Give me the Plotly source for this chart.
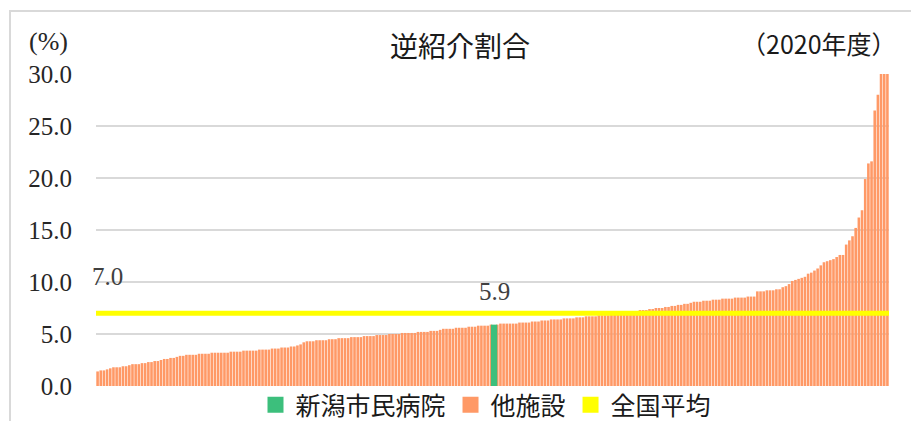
import plotly.graph_objects as go

# ---- data -------------------------------------------------------------
facility_values = [
    1.4, 1.5, 1.5, 1.6, 1.7, 1.8, 1.8, 1.8, 1.9, 1.9,
    2.0, 2.1, 2.1, 2.1, 2.2, 2.2, 2.3, 2.3, 2.4, 2.4,
    2.5, 2.6, 2.6, 2.7, 2.7, 2.8, 2.9, 2.9, 3.0, 3.0,
    3.0, 3.0, 3.1, 3.1, 3.1, 3.1, 3.2, 3.2, 3.2, 3.2,
    3.2, 3.2, 3.3, 3.3, 3.3, 3.3, 3.4, 3.4, 3.4, 3.4,
    3.4, 3.5, 3.5, 3.5, 3.5, 3.6, 3.6, 3.6, 3.7, 3.7,
    3.7, 3.8, 3.8, 3.9, 4.0, 4.2, 4.3, 4.3, 4.3, 4.4,
    4.4, 4.4, 4.4, 4.5, 4.5, 4.5, 4.6, 4.6, 4.6, 4.6,
    4.7, 4.7, 4.7, 4.7, 4.8, 4.8, 4.8, 4.8, 4.9, 4.9,
    4.9, 4.9, 5.0, 5.0, 5.0, 5.0, 5.1, 5.1, 5.1, 5.1,
    5.1, 5.2, 5.2, 5.2, 5.2, 5.3, 5.3, 5.3, 5.4, 5.5,
    5.5, 5.5, 5.5, 5.6, 5.6, 5.6, 5.6, 5.7, 5.7, 5.7,
    5.8, 5.8, 5.8, 5.8, 5.9, 5.9, 5.9, 6.0, 6.0, 6.0,
    6.0, 6.0, 6.0, 6.1, 6.1, 6.1, 6.1, 6.2, 6.2, 6.2,
    6.3, 6.3, 6.3, 6.4, 6.4, 6.4, 6.4, 6.5, 6.5, 6.5,
    6.5, 6.6, 6.6, 6.6, 6.7, 6.7, 6.7, 6.7, 6.8, 6.8,
    6.8, 6.8, 6.9, 6.9, 6.9, 7.0, 7.0, 7.1, 7.2, 7.2,
    7.2, 7.3, 7.3, 7.3, 7.4, 7.4, 7.5, 7.5, 7.5, 7.6,
    7.6, 7.7, 7.7, 7.8, 7.8, 7.9, 7.9, 8.0, 8.1, 8.1,
    8.1, 8.2, 8.2, 8.2, 8.3, 8.3, 8.3, 8.4, 8.4, 8.4,
    8.4, 8.5, 8.5, 8.5, 8.5, 8.6, 8.6, 8.6, 9.1, 9.1,
    9.1, 9.2, 9.2, 9.2, 9.3, 9.3, 9.5, 9.6, 9.8, 10.1,
    10.2, 10.3, 10.4, 10.5, 10.8, 10.9, 11.1, 11.3, 11.6, 11.9,
    12.0, 12.1, 12.2, 12.4, 12.6, 12.6, 13.6, 14.0, 14.4, 15.2,
    16.2, 16.9, 19.9, 21.4, 21.6, 26.5, 28.0, 31.0, 33.0, 35.0,
]
hospital_index = 125
hospital_value = 5.9
national_average = 7.0

series_names = ["新潟市民病院", "他施設", "全国平均"]
tick_values = [0, 5, 10, 15, 20, 25, 30]
tick_labels = ["0.0", "5.0", "10.0", "15.0", "20.0", "25.0", "30.0"]
title_text = "逆紹介割合"
unit_text = "(%)"
year_text = "（2020年度）"

# ---- styling ------------------------------------------------------------
GREEN = "#3CBF7C"
ORANGE = "#FF9966"
YELLOW = "#FFFF00"
GRID = "#D9D9D9"
SERIF = "Liberation Serif, DejaVu Serif, serif"
SANS = "Noto Sans CJK JP, Noto Sans, sans-serif"
series_colors = [GREEN, ORANGE, YELLOW]

n = len(facility_values)
other_x = [i for i in range(n) if i != hospital_index]
other_y = [facility_values[i] for i in other_x]

fig = go.Figure()
fig.add_trace(go.Bar(
    x=other_x, y=other_y, name=series_names[1], showlegend=False,
    marker=dict(color=ORANGE, line=dict(width=0)), width=0.82,
))
fig.add_trace(go.Scatter(
    x=[-0.5, n - 0.5], y=[national_average, national_average],
    mode="lines", line=dict(color=YELLOW, width=5), name=series_names[2],
    showlegend=False, hoverinfo="skip",
))
fig.add_trace(go.Bar(
    x=[hospital_index], y=[hospital_value], name=series_names[0], showlegend=False,
    marker=dict(color=GREEN, line=dict(width=0)), width=[2.0],
))
# legend entries with square swatches, as in the reference
for name, color in zip(series_names, series_colors):
    fig.add_trace(go.Scatter(
        x=[None], y=[None], name=name, mode="markers",
        marker=dict(symbol="square", size=16, color=color, line=dict(width=0)),
        hoverinfo="skip",
    ))

L, R, T, B = 96, 22, 74, 35
W, H = 911, 421
pw, ph = W - L - R, H - T - B

def px_x(px):
    return (px - L) / pw

def px_y(py):
    return (H - B - py) / ph

fig.update_layout(
    width=W, height=H,
    margin=dict(l=L, r=R, t=T, b=B, pad=0, autoexpand=False),
    paper_bgcolor="white", plot_bgcolor="white",
    barmode="overlay",
    showlegend=True,
    legend=dict(
        orientation="h", x=px_x(486), xanchor="center",
        y=px_y(405), yanchor="middle",
        font=dict(family=SANS, size=25, color="#1a1a1a"),
        traceorder="normal", itemsizing="trace",
        bgcolor="rgba(0,0,0,0)", tracegroupgap=0,
    ),
    title=dict(
        text=title_text, x=460 / W, xref="container", xanchor="center",
        y=1 - 47 / H, yref="container", yanchor="middle",
        font=dict(family=SANS, size=28, color="#1a1a1a"),
    ),
    xaxis=dict(
        range=[-0.5, n - 0.5], showticklabels=False, showgrid=False,
        zeroline=False, showline=False, ticks="",
    ),
    yaxis=dict(
        range=[0, 30], tickvals=tick_values, ticktext=tick_labels,
        showgrid=True, gridcolor=GRID, gridwidth=1.5,
        zeroline=False, showline=False, ticks="",
        tickfont=dict(family=SERIF, size=25, color="#262626"),
        ticklabelstandoff=23, automargin=False,
    ),
    shapes=[dict(
        type="rect", xref="paper", yref="paper",
        x0=px_x(10), x1=px_x(930), y0=px_y(440), y1=px_y(11),
        line=dict(color=GRID, width=2), fillcolor="rgba(0,0,0,0)", layer="below",
    )],
    annotations=[
        dict(text=unit_text, xref="paper", yref="paper", x=px_x(27), y=px_y(42),
             xanchor="left", yanchor="middle", showarrow=False,
             font=dict(family=SERIF, size=26, color="#262626")),
        dict(text=year_text, xref="paper", yref="paper", x=px_x(899), y=px_y(43),
             xanchor="right", yanchor="middle", showarrow=False,
             font=dict(family=SANS, size=25, color="#1a1a1a")),
        dict(text=f"{national_average:.1f}", xref="paper", yref="y", x=px_x(90),
             y=national_average, yshift=37, xanchor="left", yanchor="middle",
             showarrow=False, font=dict(family=SERIF, size=25, color="#404040")),
        dict(text=f"{hospital_value:.1f}", xref="x", yref="y", x=hospital_index,
             y=hospital_value, yshift=33, xanchor="center", yanchor="middle",
             showarrow=False, font=dict(family=SERIF, size=25, color="#404040")),
    ],
)

fig.write_html(
    "out.html",
    config={"displayModeBar": False},
    post_script="document.body.style.margin='0px';document.body.style.overflow='hidden';",
)
